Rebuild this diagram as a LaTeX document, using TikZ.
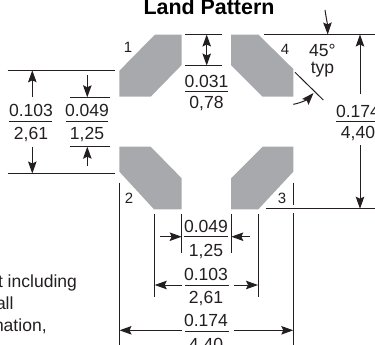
\documentclass[tikz,border=0pt]{standalone}
\usepackage{fontspec}
\setmainfont{Liberation Sans}
\usetikzlibrary{arrows.meta}
\definecolor{ink}{HTML}{231F20}
\definecolor{padgray}{HTML}{A7A9AC}
\tikzset{
  pad/.style={fill=padgray,draw=none},
  dimline/.style={draw=ink,line width=1bp},
  dimarrow/.style={draw=ink,line width=1bp,-{Stealth[length=12bp,width=8.5bp,inset=2bp]}},
  lbl/.style={anchor=base,inner sep=0pt,outer sep=0pt,text=ink,font=\fontsize{17.6}{18}\selectfont},
  pin/.style={anchor=base,inner sep=0pt,outer sep=0pt,text=ink,font=\fontsize{15}{15}\selectfont},
  ttl/.style={anchor=base,inner sep=0pt,outer sep=0pt,text=black,font=\fontsize{21.5}{22}\selectfont\bfseries},
}
\begin{document}
\begin{tikzpicture}[x=1bp,y=-1bp]
\useasboundingbox (0,0) rectangle (375,345);
\clip (0,0) rectangle (375,345);
% pads
\path[pad] (119.4,70.7) -- (155,34.5) -- (181.7,34.5) -- (181.7,65) -- (150.7,96.7) -- (119.4,96.7) -- cycle;
\path[pad] (231,34.5) -- (258.3,34.5) -- (293.3,69) -- (293.3,96.7) -- (262.7,96.7) -- (231,65) -- cycle;
\path[pad] (119.4,146.7) -- (150.7,146.7) -- (181.7,178.3) -- (181.7,209.3) -- (154,209.3) -- (119.4,171.7) -- cycle;
\path[pad] (262.7,146.7) -- (293.3,146.7) -- (293.3,171.7) -- (258.3,209.3) -- (231,209.3) -- (231,178.3) -- cycle;
% title and pin numbers
\node[ttl] (title) at (209,14) {Land Pattern};
\node[pin] (p1) at (128,52) {1};
\node[pin] (p2) at (129,203) {2};
\node[pin] (p3) at (282,203) {3};
\node[pin] (p4) at (285,54) {4};
% left dimensions
\draw[dimline] (7.7,70.3) -- (115,70.3);
\draw[dimline] (7.7,173.5) -- (115,173.5);
\draw[dimarrow] (32.3,97) -- (32.3,70.3);
\draw[dimarrow] (32.3,146.7) -- (32.3,173.5);
\node[lbl] (a1) at (31,116.7) {0.103};
\draw[dimline] (9,121.7) -- (52,121.7);
\node[lbl] (a2) at (31,139) {2,61};
\draw[dimline] (70,97.3) -- (110,97.3);
\draw[dimline] (70,146.7) -- (110,146.7);
\draw[dimarrow] (87.3,75.3) -- (87.3,97.3);
\draw[dimarrow] (87.3,165.7) -- (87.3,146.7);
\node[lbl] (b1) at (87,116.7) {0.049};
\draw[dimline] (66,121.7) -- (108,121.7);
\node[lbl] (b2) at (87,139) {1,25};
% top gap
\draw[dimline] (185,34.5) -- (222,34.5);
\draw[dimline] (185,65.5) -- (222,65.5);
\draw[dimarrow] (206.7,50) -- (206.7,34.5);
\draw[dimarrow] (206.7,47) -- (206.7,65.5);
\node[lbl] (c1) at (206.5,87) {0.031};
\draw[dimline] (185,91.7) -- (228,91.7);
\node[lbl] (c2) at (206.5,108.5) {0,78};
% right dimensions
\draw[dimline] (264,34.5) -- (375,34.5);
\draw[dimline] (266,208.7) -- (375,208.7);
\draw[dimarrow] (325,10) .. controls (326,17) and (327.5,24) .. (327.7,34.5);
\node[lbl] (d1) at (322.5,56.7) {45°};
\node[lbl] (d2) at (322.5,73) {typ};
\draw[dimline] (295,72.3) -- (323.3,100);
\draw[dimarrow] (293.3,104.3) .. controls (301,103) and (308,99) .. (313.5,93);
\draw[dimarrow] (360,94) -- (360,34.5);
\draw[dimarrow] (360,145) -- (360,208.7);
\node[lbl] (e1) at (358,117.3) {0.174};
\draw[dimline] (336,121.7) -- (375,121.7);
\node[lbl] (e2) at (358,138.5) {4,40};
% bottom dimensions
\draw[dimline] (119.5,182.7) -- (119.5,345);
\draw[dimline] (293.3,182.7) -- (293.3,205);
\draw[dimline] (293.3,213) -- (293.3,345);
\draw[dimline] (154.7,214.3) -- (154.7,297.3);
\draw[dimline] (258,214.3) -- (258,297.3);
\draw[dimline] (181.7,214) -- (181.7,253.3);
\draw[dimline] (231.3,214) -- (231.3,253.3);
\draw[dimarrow] (160,236.7) -- (181.7,236.7);
\draw[dimarrow] (250,236.7) -- (231.3,236.7);
\node[lbl] (f1) at (206,232.7) {0.049};
\draw[dimline] (184,236.7) -- (228,236.7);
\node[lbl] (f2) at (206,256) {1,25};
\draw[dimarrow] (182,285) -- (154.7,285);
\draw[dimarrow] (234,285) -- (258,285);
\node[lbl] (g1) at (206,280.7) {0.103};
\draw[dimline] (185,285) -- (229,285);
\node[lbl] (g2) at (206,303) {2,61};
\draw[dimarrow] (182,330.3) -- (119.5,330.3);
\draw[dimarrow] (234,330.3) -- (293.3,330.3);
\node[lbl] (h1) at (206,326.7) {0.174};
\draw[dimline] (185,331) -- (229,331);
\node[lbl] (h2) at (206,350) {4,40};
% clipped note
\node[lbl,anchor=base west] (n1) at (-2,287) {t including};
\node[lbl,anchor=base west] (n2) at (-4,309) {all};
\node[lbl,anchor=base west] (n3) at (-6,331) {nation,};
\end{tikzpicture}
\end{document}
